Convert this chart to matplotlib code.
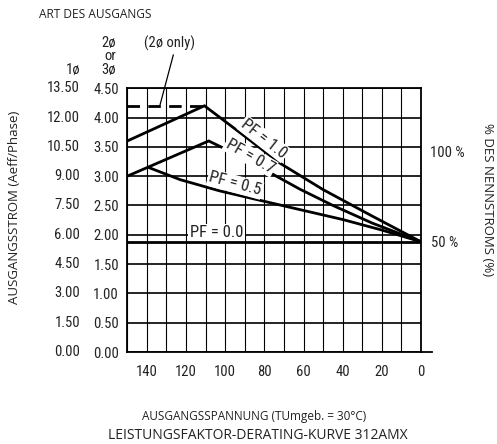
import matplotlib
matplotlib.use("Agg")
import matplotlib.pyplot as plt
from matplotlib import font_manager
from matplotlib.transforms import blended_transform_factory

# ---------------- data ----------------
x_ticks = [140, 120, 100, 80, 60, 40, 20, 0]
y_ticks_3ph = [0.00, 0.50, 1.00, 1.50, 2.00, 2.50, 3.00, 3.50, 4.00, 4.50]
y_ticks_1ph = [0.00, 1.50, 3.00, 4.50, 6.00, 7.50, 9.00, 10.50, 12.00, 13.50]

dashed_x = [150, 110.6]
dashed_y = [4.2, 4.2]

pf10_x = [150, 110.6, 90, 72, 50, 25, 0]
pf10_y = [3.6, 4.2, 3.68, 3.22, 2.77, 2.32, 1.88]

pf07_x = [150, 108.4, 90, 75, 62, 45, 25, 0]
pf07_y = [3.0, 3.6, 3.3, 3.02, 2.78, 2.5, 2.2, 1.88]

pf05_x = [139.3, 123, 103, 80, 62, 40, 20, 0]
pf05_y = [3.15, 2.94, 2.75, 2.57, 2.43, 2.26, 2.08, 1.88]

pf00_x = [150, 0]
pf00_y = [1.87, 1.87]

# ---------------- fonts ----------------
entries = font_manager.fontManager.ttflist
names = {f.name for f in entries}
narrow_family = None
for cand in ['Liberation Sans Narrow', 'Arial Narrow', 'Roboto Condensed',
             'Open Sans Condensed', 'DejaVu Sans Condensed']:
    if cand in names:
        narrow_family = cand
        break
if narrow_family is None:
    narrow_family = 'Roboto' if 'Roboto' in names else 'DejaVu Sans'
narrow = dict(fontfamily=narrow_family)
sans = 'Open Sans' if 'Open Sans' in names else 'DejaVu Sans'
ink = '#222222'
tick_fs = 10.5 if narrow_family not in ('Roboto', 'DejaVu Sans') else 9.5

W, H = 497, 444
fig = plt.figure(figsize=(W / 100, H / 100), dpi=100)
fig.patch.set_facecolor('white')

L, R, T, B = 127.3, 421.0, 88.2, 352.0
ax = fig.add_axes([L / W, 1 - B / H, (R - L) / W, (B - T) / H])

ax.set_xlim(150, 0)
ax.set_ylim(0, 4.5)

# grid
ax.set_xticks(x_ticks)
ax.set_xticks(list(range(0, 151, 10)), minor=True)
ax.set_yticks(y_ticks_3ph)
ax.set_xticklabels([str(v) for v in x_ticks], fontsize=tick_fs, **narrow)
ax.set_yticklabels([f"{v:.2f}" for v in y_ticks_3ph], fontsize=tick_fs, **narrow)
ax.tick_params(axis='both', which='both', length=0, colors=ink)
ax.tick_params(axis='y', pad=6)
ax.tick_params(axis='x', pad=9)
ax.grid(True, which='both', axis='x', color='black', lw=0.8)
ax.grid(True, which='major', axis='y', color='black', lw=1.2)
ax.set_axisbelow(True)
for s in ax.spines.values():
    s.set_color('black')
    s.set_linewidth(1.3)

# extend the bottom axis line a little to the right
ax.plot([1.0, 1.0 + 11 / (R - L)], [0, 0], transform=ax.transAxes,
        color='black', lw=1.3, clip_on=False)

# curves
lw = 2.0
ax.plot(dashed_x, dashed_y, color='black', lw=2.0, dashes=(4.5, 3.0))
ax.plot(pf10_x, pf10_y, color='black', lw=lw, solid_joinstyle='miter')
ax.plot(pf07_x, pf07_y, color='black', lw=lw, solid_joinstyle='miter')
ax.plot(pf05_x, pf05_y, color='black', lw=lw)
ax.plot(pf00_x, pf00_y, color='black', lw=lw)

# curve labels
box = dict(facecolor='white', edgecolor='none', pad=1.0)
lab_fs = tick_fs + 1.5
ax.text(264 / W, 1 - 139 / H, 'PF = 1.0', transform=fig.transFigure, rotation=-38,
        ha='center', va='center', fontsize=lab_fs, color=ink,
        rotation_mode='anchor', bbox=box, **narrow)
ax.text(250 / W, 1 - 156 / H, 'PF = 0.7', transform=fig.transFigure, rotation=-30,
        ha='center', va='center', fontsize=lab_fs, color=ink,
        rotation_mode='anchor', bbox=box, **narrow)
ax.text(235 / W, 1 - 184 / H, 'PF = 0.5', transform=fig.transFigure, rotation=-15,
        ha='center', va='center', fontsize=lab_fs, color=ink,
        rotation_mode='anchor', bbox=box, **narrow)
ax.text(216.5 / W, 1 - 232.5 / H, 'PF = 0.0', transform=fig.transFigure,
        ha='center', va='center', fontsize=lab_fs, color=ink, bbox=box, **narrow)

# (2ø only) annotation
fig.text(170 / W, 1 - 43 / H, '(2ø only)', ha='center', va='center',
         fontsize=tick_fs, color=ink, **narrow)
fig.add_artist(plt.Line2D([173.3 / W, 160 / W], [1 - 55 / H, 1 - 105 / H],
                          color='black', lw=0.9))

# 1-phase tick column
tr = blended_transform_factory(fig.transFigure, ax.transData)
for yv, lab in zip(y_ticks_3ph, y_ticks_1ph):
    ax.text(80 / W, yv, f"{lab:.2f}", transform=tr, ha='right', va='center',
            fontsize=tick_fs, color=ink, clip_on=False, **narrow)

# column headers
for txt, xx, yy in [('1ø', 80, 70), ('2ø', 116, 43), ('or', 116, 56.5), ('3ø', 116, 70)]:
    fig.text(xx / W, 1 - yy / H, txt, ha='right', va='center',
             fontsize=tick_fs, color=ink, **narrow)

# right side percentages
fig.text(447 / W, 1 - 153 / H, '100 %', ha='center', va='center',
         fontsize=tick_fs, color=ink, **narrow)
fig.text(445 / W, 1 - 243 / H, '50 %', ha='center', va='center',
         fontsize=tick_fs, color=ink, **narrow)

# titles / axis labels
fig.text(39 / W, 1 - 14.5 / H, 'ART DES AUSGANGS', ha='left', va='center',
         fontfamily=sans, fontsize=8.6, color=ink)
fig.text(15 / W, 1 - 207 / H, 'AUSGANGSSTROM (Aeff/Phase)', rotation=90,
         ha='center', va='center', fontfamily=sans, fontsize=9.5, color=ink)
fig.text(487.5 / W, 1 - 200 / H, '% DES NENNSTROMS (%)', rotation=-90,
         ha='center', va='center', fontfamily=sans, fontsize=9.5, color=ink)
fig.text(254 / W, 1 - 416 / H, 'AUSGANGSSPANNUNG (TUmgeb. = 30°C)', ha='center',
         va='center', fontfamily=sans, fontsize=8.5, color=ink)
fig.text(257.5 / W, 1 - 435 / H, 'LEISTUNGSFAKTOR-DERATING-KURVE 312AMX', ha='center',
         va='center', fontfamily=sans, fontsize=10, color=ink)

fig.savefig('out.png', dpi=100, facecolor='white')
